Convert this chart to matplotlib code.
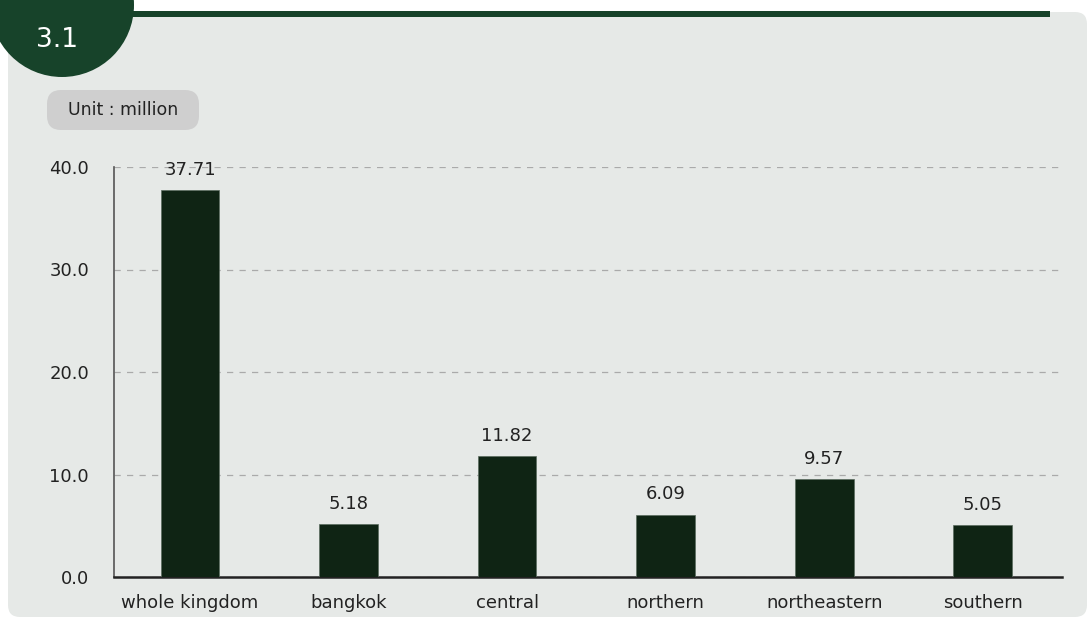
import matplotlib.pyplot as plt
from matplotlib.patches import FancyBboxPatch, Circle, Rectangle

categories = ['whole kingdom', 'bangkok', 'central', 'northern', 'northeastern', 'southern']
values = [37.71, 5.18, 11.82, 6.09, 9.57, 5.05]
yticks = [0, 10, 20, 30, 40]

plt.rcParams['font.family'] = ['DejaVu Sans']

W, H = 1088, 619
fig = plt.figure(figsize=(W / 100, H / 100), dpi=100)
fig.patch.set_facecolor('white')

# background decorations in pixel coords
bg = fig.add_axes([0, 0, 1, 1])
bg.set_xlim(0, W)
bg.set_ylim(H, 0)
bg.axis('off')
bg.add_patch(FancyBboxPatch((8, 12), 1079, 605, boxstyle='round,pad=0,rounding_size=12',
                            fc='#e6e9e7', ec='none'))
bg.add_patch(Rectangle((128, 11), 922, 6, fc='#17432a', ec='none'))
bg.add_patch(Circle((62, 5), 72, fc='#17432a', ec='none'))
bg.text(57, 40, '3.1', color='white', fontsize=19, ha='center', va='center')
bg.add_patch(FancyBboxPatch((47, 90), 152, 40, boxstyle='round,pad=0,rounding_size=14',
                            fc='#cfcfcf', ec='none'))
bg.text(123, 110, 'Unit : million', color='#222222', fontsize=12.5, ha='center', va='center')

# main chart
ax = fig.add_axes([114 / W, (H - 577) / H, (1062 - 114) / W, (577 - 167) / H])
ax.patch.set_alpha(0)
x = range(len(categories))
bars = ax.bar(x, values, width=0.37, color='#0f2414', edgecolor='#5a6b5e', linewidth=0.5, zorder=3)
for xi, v in zip(x, values):
    ax.annotate(f'{v:.2f}', (xi, v), xytext=(0, 8), textcoords='offset points',
                ha='center', va='bottom', fontsize=13, color='#222222')

ax.set_xlim(-0.48, 5.5)
ax.set_ylim(0, 40)
ax.set_yticks(yticks)
ax.set_yticklabels([f'{t:.1f}' for t in yticks])
ax.set_xticks(list(x))
ax.set_xticklabels(categories)
ax.tick_params(axis='y', length=0, pad=18, labelsize=13, labelcolor='#222222')
ax.tick_params(axis='x', length=0, pad=12, labelsize=13, labelcolor='#222222')
ax.grid(axis='y', color='#aaaaaa', linestyle=(0, (5, 5)), linewidth=0.9, zorder=0)
for s in ['top', 'right']:
    ax.spines[s].set_visible(False)
ax.spines['left'].set_color('#555555')
ax.spines['left'].set_linewidth(1.2)
ax.spines['bottom'].set_color('#222222')
ax.spines['bottom'].set_linewidth(1.8)

fig.savefig('out.png', dpi=100)
